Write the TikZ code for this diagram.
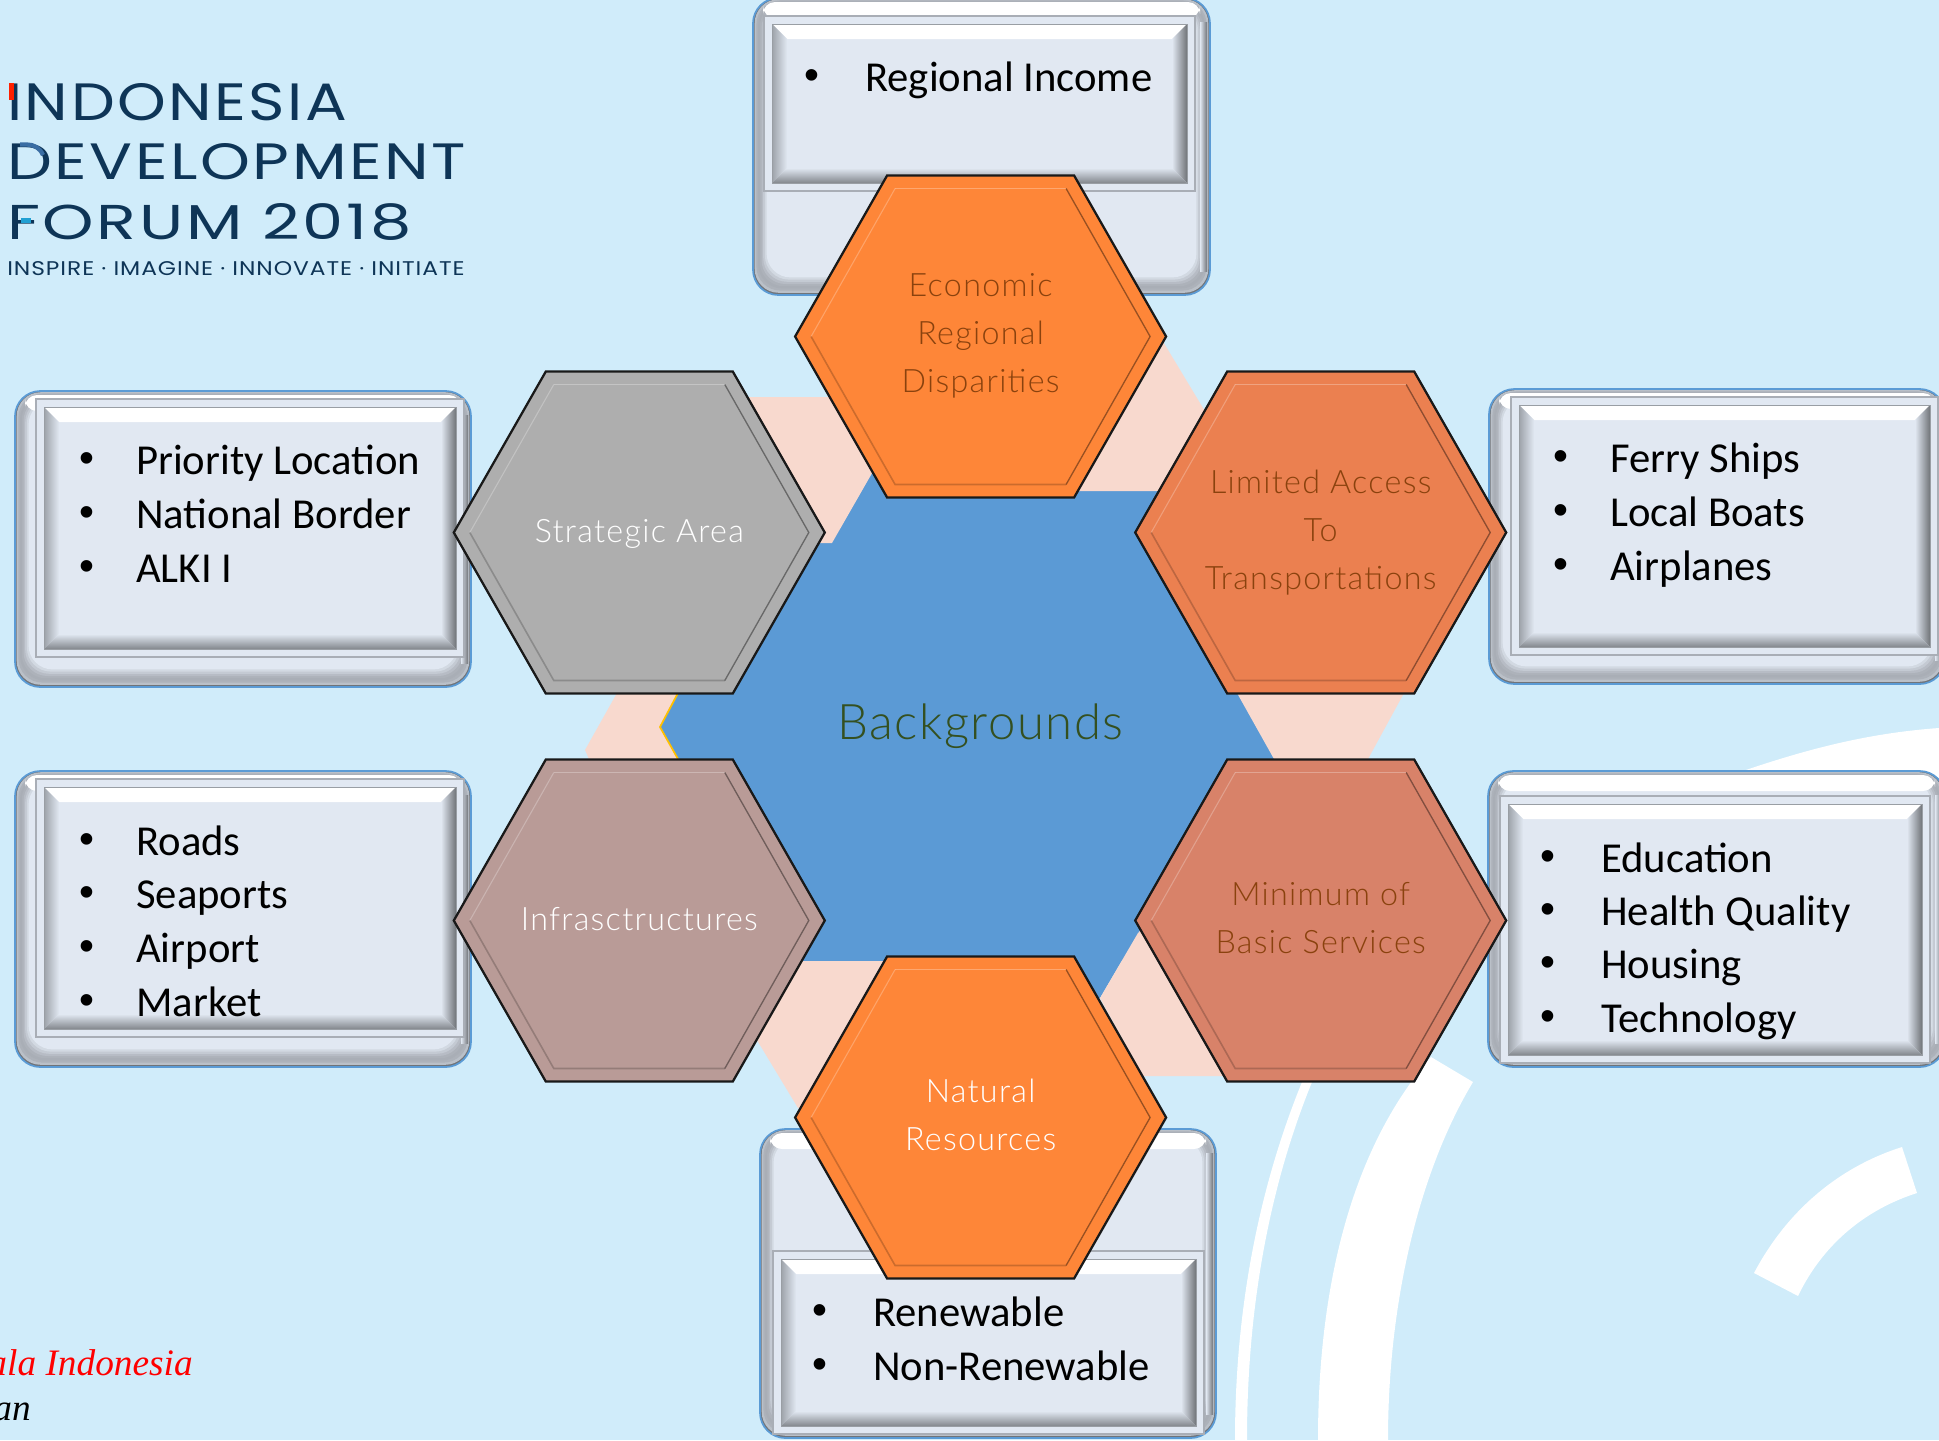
\documentclass[tikz,border=0pt]{standalone}
\usepackage{fontspec}
\usepackage{graphicx}
\setmainfont{Carlito}
\newfontfamily\hexf[LetterSpace=4]{Lato Light}
\newfontfamily\bgf[LetterSpace=3]{Lato Light}
\newfontfamily\logof[LetterSpace=4]{Poppins}
\newfontfamily\bulf{Liberation Sans}
\newfontfamily\serif{Liberation Serif}
\definecolor{bgc}{HTML}{D0ECFA}
\definecolor{bluec}{HTML}{5B9AD5}
\definecolor{pinkc}{HTML}{F8D9CE}
\definecolor{yelc}{HTML}{FFC000}
\definecolor{facec}{HTML}{E1E8F2}
\definecolor{linec}{HTML}{5B9BD5}
\definecolor{orgc}{HTML}{FE8638}
\definecolor{limc}{HTML}{EB8050}
\definecolor{minc}{HTML}{D88269}
\definecolor{infc}{HTML}{B99B97}
\definecolor{strc}{HTML}{AEAEAE}
\definecolor{brownc}{HTML}{8A420E}
\definecolor{navyc}{HTML}{0E3557}
\definecolor{greenc}{HTML}{345020}
\tikzset{
  lst/.style={anchor=base west,inner sep=0pt,font=\fontsize{32pt}{36pt}\selectfont,text=black},
  blt/.style={anchor=center,inner sep=0pt,font=\bulf\fontsize{32pt}{36pt}\selectfont,text=black},
  hextxt/.style={align=center,inner sep=0pt,font=\hexf\fontsize{24.2pt}{36pt}\selectfont},
  logotxt/.style={anchor=base west,inner sep=0pt,text=navyc},
}
\newcommand\listrow[5]{%
  \node[blt] (#1b) at (#2,#4+3.5) {•};
  \node[lst] (#1t) at (#3-2,#4+15.5) {#5};}
\newcommand\bevbox[8]{%
  \fill[rounded corners=19pt,black!50!facec] (#1,#2) rectangle (#3,#4);
  \foreach \i/\m in {1/78,2/64,3/50,4/37,5/25,6/15,7/7,8/0}{
    \fill[rounded corners=18pt,black!\m!facec!\the\numexpr100-\m\relax!facec]
      (#1+\i*1.7,#2+\i*1.2) rectangle (#3-\i*1.7,#4-\i*2.2);}
  \fill[rounded corners=9pt,white] (#1+10,#2+4) rectangle (#3-10,#2+20);
  \shade[left color=facec,right color=black!50!facec] (#3-10,#2+24) rectangle (#3-3,#4-24);
  \draw[linec,line width=1.3pt,rounded corners=19pt] (#1,#2) rectangle (#3,#4);
  \draw[black!25!facec,line width=.8pt,fill=facec] (#5,#6) rectangle (#7,#8);
  \fill[white] (#5+8,#6+8) -- (#7-8,#6+8) -- (#7-23,#6+23) -- (#5+23,#6+23) -- cycle;
  \shade[left color=black!30!facec,right color=facec] (#5+8,#6+8) -- (#5+23,#6+23) -- (#5+23,#8-23) -- (#5+8,#8-8) -- cycle;
  \shade[left color=facec,right color=black!50!facec] (#7-8,#6+8) -- (#7-23,#6+23) -- (#7-23,#8-23) -- (#7-8,#8-8) -- cycle;
  \shade[top color=facec,bottom color=black!42!facec] (#5+8,#8-8) -- (#5+23,#8-23) -- (#7-23,#8-23) -- (#7-8,#8-8) -- cycle;
  \draw[black!32!facec,line width=.7pt] (#5+8,#6+8) rectangle (#7-8,#8-8);}
\newcommand\hexa[4]{%
  \begin{scope}[shift={(#2,#3)}]
  \coordinate (#1) at (0,0);
  \fill[#4] (-185.5,0) -- (-93.5,-161) -- (93.5,-161) -- (185.5,0) -- (93.5,161) -- (-93.5,161) -- cycle;
  \draw[white,opacity=.28,line width=1.4pt] (-85.5,-148) -- (85.5,-148);
  \draw[white,opacity=.25,line width=.8pt] (-169.5,0) -- (-85.5,-148);
  \draw[black,opacity=.4,line width=1pt] (85.5,-148) -- (169.5,0) -- (85.5,148);
  \draw[black,opacity=.2,line width=1.2pt] (-169.5,0) -- (-85.5,148) -- (85.5,148);
  \draw[black!90,line width=1.7pt,line join=miter] (-185.5,0) -- (-93.5,-161) -- (93.5,-161) -- (185.5,0) -- (93.5,161) -- (-93.5,161) -- cycle;
  \end{scope}}
\begin{document}
\begin{tikzpicture}[x=0.75pt,y=-0.75pt]
\useasboundingbox (0,0) rectangle (1939,1440);
\clip (0,0) rectangle (1939,1440);
\fill[bgc] (0,0) rectangle (1939,1440);
% white arcs
\fill[white] (1235,1440) .. controls (1235,1300) and (1262,1180) .. (1302,1082) -- (1312,1082) .. controls (1272,1180) and (1247,1300) .. (1247,1440) -- cycle;
\fill[white] (1318,1440) .. controls (1318,1290) and (1350,1150) .. (1431,1057) -- (1473,1082) .. controls (1420,1170) and (1388,1300) .. (1388,1440) -- cycle;
\fill[white] (1740,772) .. controls (1810,748) and (1870,733) .. (1939,728) -- (1939,790) -- (1740,790) -- cycle;
\fill[white] (1754,1273) .. controls (1790,1205) and (1845,1165) .. (1902,1147) -- (1917,1193) .. controls (1870,1208) and (1825,1240) .. (1798,1296) -- cycle;
% centre hexagon
\fill[bluec] (785,465) -- (900,465) -- (900,491) -- (1176,491) -- (1301,726) -- (1176,961) -- (785,961) -- (660,726) -- cycle;
\fill[bluec] (1138,933) -- (1100,998) -- (1060,998) -- (1060,933) -- cycle;
% pale transition shapes
\fill[pinkc] (700,397) -- (850,397) -- (891,440) -- (832,543) -- (780,543) -- cycle;
\fill[pinkc] (1100,400) -- (1150,320) -- (1203,408) -- (1260,491) -- (1076,491) -- cycle;
\fill[pinkc] (1237,693) -- (1404,693) -- (1368,759) -- (1274,759) -- cycle;
\fill[pinkc] (1138,933) -- (1100,998) -- (1143,1076) -- (1223,1076) -- (1280,1000) -- (1170,900) -- cycle;
\fill[pinkc] (803,961) -- (900,961) -- (850,1110) -- (798,1108) -- (740,1012) -- cycle;
\fill[pinkc] (617,693) -- (678,693) -- (660,727) -- (678,759) -- (589,759) -- (585,750) -- cycle;
\draw[yelc,line width=1.3pt] (678,693) -- (660,727) -- (678,759);
% boxes
\bevbox{753}{-2}{1210}{295}{764}{16}{1195}{191}
\bevbox{15}{391}{471}{687}{36}{399}{464}{657}
\bevbox{15}{771}{471}{1067}{36}{779}{464}{1037}
\bevbox{1489}{389}{1945}{684}{1511}{397}{1938}{655}
\bevbox{1488}{771}{1945}{1067}{1500}{796}{1930}{1063}
\bevbox{760}{1129}{1216}{1438}{773}{1251}{1204}{1434}
% box texts
\listrow{ra}{812}{867}{76}{Regional Income}
\listrow{sa}{87}{138}{459}{Priority Location}
\listrow{sb}{87}{138}{513}{National Border}
\listrow{sc}{87}{138}{567}{ALKI I}
\listrow{ia}{87}{138}{840}{Roads}
\listrow{ib}{87}{138}{893}{Seaports}
\listrow{ic}{87}{138}{947}{Airport}
\listrow{id}{87}{138}{1001}{Market}
\listrow{la}{1561}{1612}{457}{Ferry Ships}
\listrow{lb}{1561}{1612}{511}{Local Boats}
\listrow{lc}{1561}{1612}{565}{Airplanes}
\listrow{ma}{1548}{1603}{857}{Education}
\listrow{mb}{1548}{1603}{910}{Health Quality}
\listrow{mc}{1548}{1603}{963}{Housing}
\listrow{md}{1548}{1603}{1017}{Technology}
\listrow{na}{820}{875}{1311}{Renewable}
\listrow{nb}{820}{875}{1365}{Non-Renewable}
% hexagons
\hexa{strategic}{639.3}{532.5}{strc}
\hexa{limited}{1320.7}{532.5}{limc}
\hexa{infra}{639.3}{920.5}{infc}
\hexa{minimum}{1320.7}{920.5}{minc}
\hexa{economic}{980.6}{336.5}{orgc}
\hexa{natural}{980.6}{1117.5}{orgc}
\node[hextxt,text=brownc] (te) at (980.6,336) {Economic\\Regional\\Disparities};
\node[hextxt,text=brownc] (tl) at (1320.7,533) {Limited Access\\To\\Transportations};
\node[hextxt,text=brownc] (tm) at (1320.7,918) {Minimum of\\Basic Services};
\node[hextxt,text=white] (ts) at (639.3,534) {Strategic Area};
\node[hextxt,text=white] (ti) at (639.3,919) {Infrasctructures};
\node[hextxt,text=white] (tn) at (980.6,1115) {Natural\\Resources};
\node[inner sep=0pt,text=greenc,font=\bgf\fontsize{36.8pt}{40pt}\selectfont] (bg) at (980.6,726.5) {Backgrounds};
% logo
\node[logotxt] (l1) at (7,120) {\logof\resizebox{255pt}{27.8pt}{INDONESIA}};
\node[logotxt] (l2) at (7,179) {\logof\resizebox{344pt}{27pt}{DEVELOPMENT}};
\node[logotxt] (l3) at (7,239) {\logof\resizebox{303pt}{27pt}{FORUM 2018}};
\node[logotxt] (l4) at (7,275) {\logof\resizebox{343pt}{10.5pt}{INSPIRE · IMAGINE · INNOVATE · INITIATE}};
\fill[red!75!orange] (8.5,82.5) rectangle (13.5,100);
\draw[cyan!55!blue!75!black,line width=3.2pt] (20,144.5) -- (27,144.5) .. controls (34,144.5) and (40,148) .. (43,155);
\fill[cyan!70!teal] (21,218) rectangle (30.5,222.5);
% bottom-left
\node[anchor=base east,inner sep=0pt,text=red,font=\serif\itshape\fontsize{28pt}{30pt}\selectfont] (r1) at (193,1375) {ala Indonesia};
\node[anchor=base east,inner sep=0pt,text=black,font=\serif\itshape\fontsize{28pt}{30pt}\selectfont] (r2) at (31,1420) {an};
\end{tikzpicture}
\end{document}
